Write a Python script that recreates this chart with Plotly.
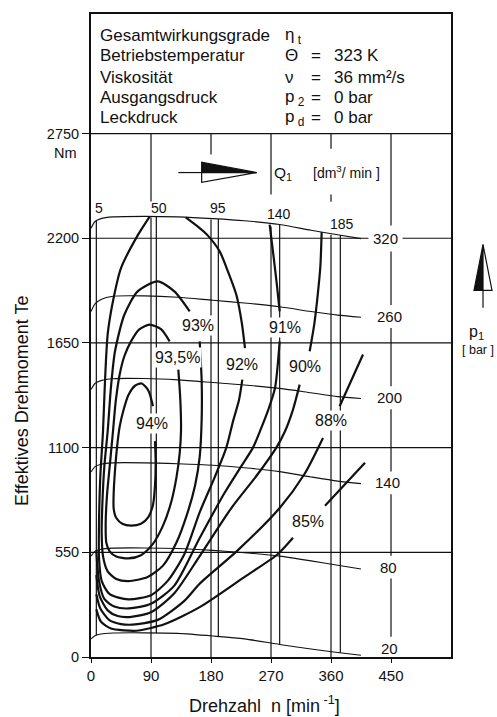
import numpy as np
import plotly.graph_objects as go

# ---------------- axes ----------------
x_ticks = [0, 90, 180, 270, 360, 450]
y_ticks = [0, 550, 1100, 1650, 2200, 2750]
x_range = [0, 540]
y_range = [0, 3378]

# ---------------- pressure curves p1 [bar] ----------------
p_labels = ["320", "260", "200", "140", "80", "20"]
p_x = [0, 6, 15, 33, 80, 130, 183, 230, 283, 330, 370, 405]
p320_y = [2252, 2288, 2303, 2312, 2315, 2312, 2303, 2292, 2272, 2242, 2218, 2198]
p260_y = [1815, 1855, 1878, 1895, 1897, 1890, 1874, 1860, 1840, 1815, 1796, 1785]
p200_y = [1405, 1437, 1452, 1462, 1463, 1456, 1442, 1429, 1411, 1388, 1368, 1358]
p140_y = [972, 1000, 1013, 1020, 1020, 1015, 1007, 994, 974, 946, 924, 911]
p80_y = [530, 555, 566, 572, 573, 570, 560, 548, 530, 505, 482, 462]
p20_y = [95, 112, 121, 126, 127, 124, 110, 95, 66, 42, 24, 9]
p_label_x = [442, 448, 448, 445, 446, 448]
p_label_y = [2200, 1789, 1362, 915, 472, 47]

# ---------------- flow lines Q1 [dm3/min] ----------------
q_labels = ["5", "50", "95", "140", "185"]
q_x = [8, 98, 191, 283, 374]
q_label_x = [12, 102, 190, 282, 377]
q_label_y = [2358, 2358, 2358, 2326, 2274]

# ---------------- efficiency contours ----------------
eff94_x = [93, 86, 76, 66, 56, 49, 43, 39, 36, 34, 34, 38, 47, 60, 75, 86, 93, 96, 97, 96]
eff94_y = [1318, 1400, 1437, 1425, 1375, 1300, 1210, 1100, 980, 860, 780, 730, 700, 690, 700, 735, 800, 900, 1020, 1134]

eff935_x = [118, 105, 88, 72, 60, 50, 43, 37, 33, 28, 24, 22, 23, 28, 38, 56, 75, 92, 108, 120, 128, 133, 135, 134, 131]
eff935_y = [1658, 1722, 1746, 1720, 1658, 1580, 1484, 1340, 1186, 1000, 850, 700, 600, 555, 528, 518, 535, 590, 690, 810, 940, 1070, 1186, 1350, 1510]

eff93_x = [148, 125, 100, 70, 50, 36, 30, 25, 20, 17, 16, 18, 25, 38, 56, 85, 108, 128, 145, 156, 163, 166, 166, 163]
eff93_y = [1816, 1921, 1973, 1921, 1798, 1606, 1420, 1186, 1000, 800, 650, 530, 450, 410, 399, 420, 480, 600, 760, 900, 1050, 1250, 1450, 1658]

eff92_x = [88, 70, 45, 33, 25, 21, 18, 14, 12, 12, 16, 28, 56, 90, 115, 140, 163, 185, 203, 213, 222, 227, None,
           231, 226, 218, 206, 193, 175, 163, 142]
eff92_y = [2314, 2215, 2043, 1870, 1695, 1450, 1186, 950, 700, 520, 400, 330, 303, 325, 400, 540, 760, 940, 1100, 1238, 1350, 1457, None,
           1623, 1760, 1903, 2020, 2131, 2215, 2253, 2309]

eff91_x = [8, 12, 20, 35, 57, 90, 125, 163, 200, 225, 243, 255, 266, 276, 283, None, 283, 279, 274, 268]
eff91_y = [560, 400, 305, 265, 255, 280, 375, 625, 860, 1000, 1100, 1200, 1300, 1413, 1658, None, 1816, 1950, 2100, 2272]

eff90_x = [8, 13, 25, 40, 58, 90, 125, 163, 210, 250, 278, 291, 303, 313, None, 328, 335, 340, 344, 346]
eff90_y = [430, 320, 245, 215, 210, 235, 335, 530, 780, 960, 1100, 1186, 1300, 1431, None, 1606, 1750, 1900, 2050, 2232]

eff88_x = [8, 14, 28, 45, 62, 100, 140, 163, 220, 283, 320, 348, None, 373, 408]
eff88_y = [330, 255, 192, 173, 170, 195, 295, 385, 560, 783, 960, 1151, None, 1317, 1589]

eff85_x = [8, 15, 30, 50, 68, 110, 163, 230, 280, 303, None, 351, 411]
eff85_y = [250, 185, 150, 140, 138, 172, 262, 420, 540, 626, None, 795, 1021]

eff_labels = ["94%", "93,5%", "93%", "92%", "91%", "90%", "88%", "85%"]
eff_label_x = [91.5, 129, 160.5, 226, 291, 321, 360, 326]
eff_label_y = [1225, 1572, 1742, 1537, 1733, 1527, 1244, 710]

# ---------------- header text ----------------
hdr_names = ["Gesamtwirkungsgrade", "Betriebstemperatur", "Viskosität", "Ausgangsdruck", "Leckdruck"]
hdr_symbols = ["η<sub> t</sub>", "Θ", "ν", "p<sub> 2</sub>", "p<sub> d</sub>"]
hdr_values = ["", "323 K", "36 mm²/s", "0 bar", "0 bar"]
hdr_y = [3263, 3158, 3043, 2938, 2833]

INK = "#111111"
FONT = "Liberation Sans, Arial, Helvetica, sans-serif"

fig = go.Figure()


def add_line(x, y, width, smooth=True):
    fig.add_trace(go.Scatter(
        x=x, y=y, mode="lines",
        line=dict(color=INK, width=width, shape="spline" if smooth else "linear",
                  smoothing=0.7 if smooth else 0),
        connectgaps=False, hoverinfo="skip", showlegend=False))


def vertical_with_gaps(xv, lo, hi, gaps):
    xs, ys = [], []
    cur = lo
    for g0, g1 in sorted(gaps):
        if g0 > cur:
            xs += [xv, xv, None]
            ys += [cur, g0, None]
        cur = max(cur, g1)
    if cur < hi:
        xs += [xv, xv]
        ys += [cur, hi]
    return xs, ys


# horizontal grid lines (incl. header divider at 2750)
for gy in [550, 1100, 1650, 2200, 2750]:
    add_line([x_range[0], x_range[1]], [gy, gy], 1.2, smooth=False)

# vertical grid lines with gaps for labels / arrow
v_gaps = {
    90: [(2309, 2393)],
    180: [(2299, 2640)],
    270: [(2262, 2430)],
    360: [(2218, 2391), (2430, 2670)],
    450: [(ly - 60, ly + 60) for ly in p_label_y],
}
for xv in [90, 180, 270, 360, 450]:
    xs, ys = vertical_with_gaps(xv, 0, 2750, v_gaps[xv])
    add_line(xs, ys, 1.2, smooth=False)

# pressure curves
p_curves = [p320_y, p260_y, p200_y, p140_y, p80_y, p20_y]
for py_ in p_curves:
    add_line(p_x, py_, 1.1)

# flow lines between lowest and highest pressure curve
for qx in q_x:
    y_lo = float(np.interp(qx, p_x, p20_y))
    y_hi = float(np.interp(qx, p_x, p320_y))
    add_line([qx, qx], [y_lo, y_hi], 1.2, smooth=False)

# efficiency contours
for ex, ey in [(eff94_x, eff94_y), (eff935_x, eff935_y), (eff93_x, eff93_y), (eff92_x, eff92_y),
               (eff91_x, eff91_y), (eff90_x, eff90_y), (eff88_x, eff88_y), (eff85_x, eff85_y)]:
    add_line(ex, ey, 2.2)

ann = []


def note(x, y, text, size, ref="data", **kw):
    d = dict(x=x, y=y, text=text, showarrow=False,
             xref="x" if ref == "data" else "paper", yref="y" if ref == "data" else "paper",
             xanchor=kw.pop("xanchor", "center"), yanchor=kw.pop("yanchor", "middle"),
             font=dict(size=size, color=INK, family=FONT))
    d.update(kw)
    ann.append(d)


# efficiency labels
for t, ax_, ay_ in zip(eff_labels, eff_label_x, eff_label_y):
    note(ax_, ay_, t, 16, bgcolor="white", borderpad=1)
# pressure labels
for t, ax_, ay_ in zip(p_labels, p_label_x, p_label_y):
    if t == "320":
        note(ax_, ay_, t, 15, bgcolor="white", borderpad=4)
    else:
        note(ax_, ay_, t, 15)
# flow labels
for t, ax_, ay_ in zip(q_labels, q_label_x, q_label_y):
    note(ax_, ay_, t, 14)
note(288, 2540, "Q<sub>1</sub>", 15.5)
note(383, 2548, "[dm<sup>3</sup>/ min ]", 14)
# header block
for name, sym, val, hy in zip(hdr_names, hdr_symbols, hdr_values, hdr_y):
    note(11, hy, name, 17, xanchor="left")
    note(288.5, hy, sym, 17, xanchor="left")
    if val:
        note(337.5, hy, "=", 17)
        note(361, hy, val, 17, xanchor="left")
# unit / axis titles (paper coords, explicit anchors)
note(-0.072, 0.7845, "Nm", 14.5, ref="paper")
note(-0.192, 0.398, "Effektives Drehmoment Te", 18, ref="paper", textangle=-90)
note(0.4806, -0.0735, "Drehzahl\u00a0\u00a0n [min<sup> -1</sup>]", 18, ref="paper")
note(1.072, 0.505, "p<sub>1</sub>", 16, ref="paper")
note(1.074, 0.4775, "[ bar ]", 12.5, ref="paper")

shapes = []
# Q arrow (pointing right) inside plot
shapes.append(dict(type="line", xref="x", yref="y", x0=131, y0=2545, x1=166, y1=2545,
                   line=dict(color=INK, width=1.2)))
shapes.append(dict(type="path", xref="x", yref="y", path="M166,2599 L166,2545 L248.5,2545 Z",
                   fillcolor=INK, line=dict(color=INK, width=1.2)))
shapes.append(dict(type="path", xref="x", yref="y", path="M166,2545 L166,2494 L248.5,2545 Z",
                   fillcolor="white", line=dict(color=INK, width=1.2)))
# p1 arrow (pointing up) right of plot
shapes.append(dict(type="line", xref="paper", yref="paper", x0=1.0889, y0=0.5431, x1=1.0889, y1=0.5701,
                   line=dict(color=INK, width=1.2)))
shapes.append(dict(type="path", xref="paper", yref="paper",
                   path="M1.0639,0.5701 L1.0889,0.5701 L1.0889,0.6414 Z",
                   fillcolor=INK, line=dict(color=INK, width=1.2)))
shapes.append(dict(type="path", xref="paper", yref="paper",
                   path="M1.0889,0.5701 L1.1139,0.5701 L1.0889,0.6414 Z",
                   fillcolor="white", line=dict(color=INK, width=1.2)))

fig.update_layout(
    width=497, height=717,
    margin=dict(l=91, r=46, t=12, b=60),
    paper_bgcolor="white", plot_bgcolor="white",
    showlegend=False,
    font=dict(family=FONT, color=INK),
    annotations=ann, shapes=shapes,
)
fig.update_xaxes(range=x_range, tickvals=x_ticks, ticktext=[str(v) for v in x_ticks],
                 showgrid=False, zeroline=False, showline=True, linecolor=INK, linewidth=2,
                 mirror=True, ticks="outside", ticklen=4, tickwidth=1.2, tickcolor=INK,
                 tickfont=dict(size=15, color=INK, family=FONT))
fig.update_yaxes(range=y_range, tickvals=y_ticks, ticktext=[str(v) for v in y_ticks],
                 showgrid=False, zeroline=False, showline=True, linecolor=INK, linewidth=2,
                 mirror=True, ticks="outside", ticklen=7, tickwidth=1.2, tickcolor=INK,
                 tickfont=dict(size=14.5, color=INK, family=FONT))

fig.write_html("out.html")
